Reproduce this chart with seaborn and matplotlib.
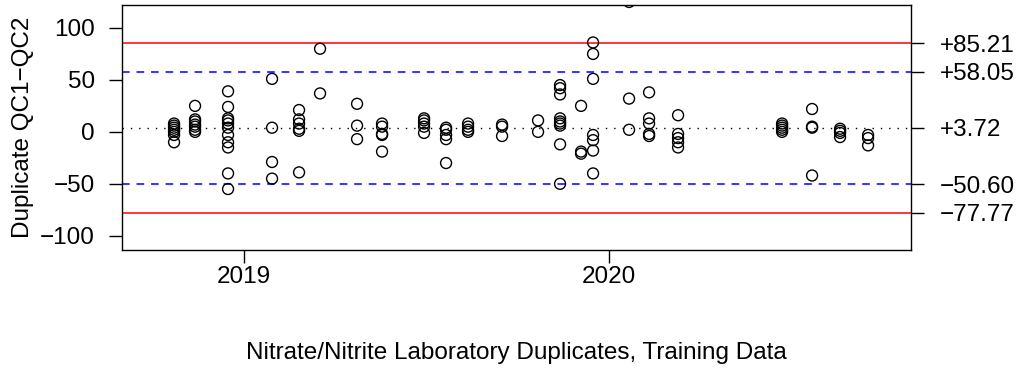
import matplotlib
matplotlib.use("Agg")
import numpy as np
import pandas as pd
import seaborn as sns
import matplotlib.pyplot as plt
import matplotlib.dates as mdates

# sampling dates and the duplicate differences (QC1 - QC2) on each date
sample_dates = ["2018-10-23", "2018-11-13", "2018-12-16", "2019-01-29", "2019-02-25",
                "2019-03-18", "2019-04-24", "2019-05-19", "2019-06-30", "2019-07-22",
                "2019-08-13", "2019-09-16", "2019-10-22", "2019-11-13", "2019-12-04",
                "2019-12-16", "2020-01-21", "2020-02-10", "2020-03-10", "2020-06-22",
                "2020-07-22", "2020-08-19", "2020-09-16"]
qc_diffs = [
    [8, 6, 4, 2, 0, -3, -10],
    [25, 12, 10, 7, 5, 2, 0],
    [39, 24, 13, 11, 8, 4, -3, -10, -15, -40, -55],
    [51, 4, -29, -45],
    [21, 12, 8, 3, 1, -39],
    [80, 37],
    [27, 6, -7],
    [8, 5, -2, -3, -19],
    [13, 11, 8, 5, -1],
    [4, 2, -3, -7, -30],
    [8, 5, 2, 0],
    [7, 5, -4],
    [11, 0],
    [45, 42, 36, 13, 10, 8, 6, -12, -50],
    [25, -19, -21],
    [86, 75, 51, -3, -8, -18, -40],
    [125, 32, 2],
    [38, 13, 8, -2, -4],
    [16, -2, -6, -10, -15],
    [8, 6, 4, 2, 0],
    [22, 5, 4, -42],
    [3, 1, -1, -5],
    [-3, -6, -13],
]

center = 3.72
warn_limits = [58.05, -50.60]
ctrl_limits = [85.21, -77.77]

rows = []
for d, vals in zip(sample_dates, qc_diffs):
    for v in vals:
        rows.append({"date": pd.Timestamp(d), "diff": v})
df = pd.DataFrame(rows)

sns.set_style("ticks")
plt.rcParams["font.family"] = ["Liberation Sans", "DejaVu Sans"]
plt.rcParams["axes.unicode_minus"] = True
for k in ["text.color", "axes.labelcolor", "xtick.color", "ytick.color", "axes.edgecolor"]:
    plt.rcParams[k] = "black"
fs = 17.5

fig = plt.figure(figsize=(10.23, 3.7), dpi=100)
ax = fig.add_axes([0.1193, 0.3243, 0.7713, 0.6614])

sns.scatterplot(data=df, x="date", y="diff", ax=ax, marker="o", s=62,
                facecolors="none", edgecolor="black", linewidth=1.0, zorder=3)

for v in ctrl_limits:
    ax.axhline(v, color="#ff0000", lw=1.1)
for v in warn_limits:
    ax.axhline(v, color="#0000ff", lw=1.1, linestyle=(0, (5, 4.5)))
ax.axhline(center, color="black", lw=1.0, linestyle=(0, (1, 5)))

ax.set_xlim(pd.Timestamp("2018-09-01"), pd.Timestamp("2020-10-29"))
ax.set_ylim(-113.7, 121.8)
ax.set_yticks([-100, -50, 0, 50, 100])
ax.xaxis.set_major_locator(mdates.YearLocator())
ax.xaxis.set_major_formatter(mdates.DateFormatter("%Y"))

for s in ax.spines.values():
    s.set_linewidth(1.0)
    s.set_color("black")
ax.tick_params(axis="both", direction="out", length=9.5, width=1.0, labelsize=fs)
ax.tick_params(axis="y", pad=10)
ax.tick_params(axis="x", pad=2)

ax.set_ylabel("Duplicate QC1\u2212QC2", fontsize=fs)
ax.yaxis.set_label_coords(-0.126, 0.5)
ax.yaxis.label.set_va("center")
ax.set_xlabel("Nitrate/Nitrite Laboratory Duplicates, Training Data", fontsize=fs)
ax.xaxis.set_label_coords(0.5, -0.421)
ax.xaxis.label.set_va("center")

ax2 = ax.twinx()
ax2.set_ylim(ax.get_ylim())
right_vals = [ctrl_limits[0], warn_limits[0], center, warn_limits[1], ctrl_limits[1]]
ax2.set_yticks(right_vals)
ax2.set_yticklabels([f"{v:+.2f}".replace("-", "\u2212") for v in right_vals])
ax2.tick_params(axis="y", direction="out", length=9.5, width=1.0, labelsize=fs, pad=11)
for s in ax2.spines.values():
    s.set_visible(False)

fig.savefig("out.png", dpi=100)
